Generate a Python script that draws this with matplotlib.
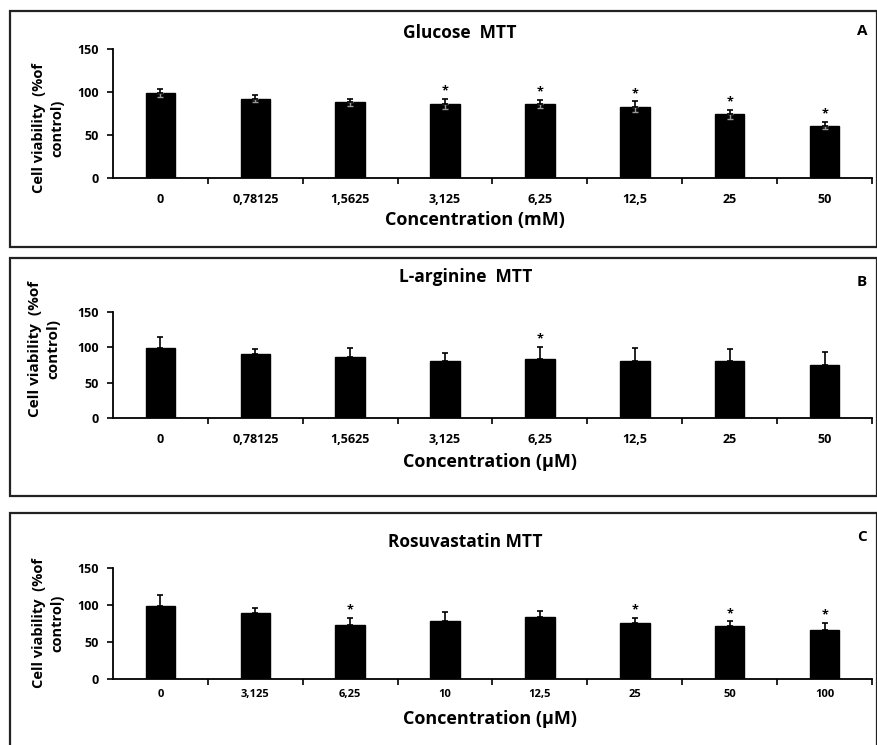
import numpy as np
import matplotlib
matplotlib.use("Agg")
import matplotlib.pyplot as plt
from matplotlib.patches import Rectangle

plt.rcParams['font.family'] = ['Open Sans', 'DejaVu Sans']
plt.rcParams['font.weight'] = 'bold'

# ---------------- data ----------------
glucose_labels = ['0', '0,78125', '1,5625', '3,125', '6,25', '12,5', '25', '50']
glucose_vals = [99, 92, 88, 86, 86, 83, 74, 61]
glucose_err = [5, 4, 4, 6, 5, 6, 5, 4]
glucose_star = [0, 0, 0, 1, 1, 1, 1, 1]

arginine_labels = ['0', '0,78125', '1,5625', '3,125', '6,25', '12,5', '25', '50']
arginine_vals = [99, 91, 86, 81, 83, 81, 81, 75]
arginine_err = [15, 7, 13, 11, 18, 18, 16, 19]
arginine_star = [0, 0, 0, 0, 1, 0, 0, 0]

rosu_labels = ['0', '3,125', '6,25', '10', '12,5', '25', '50', '100']
rosu_vals = [99, 89, 73, 79, 84, 76, 71, 66]
rosu_err = [15, 7, 10, 12, 8, 7, 7, 10]
rosu_star = [0, 0, 1, 0, 0, 1, 1, 1]

titles = ['Glucose  MTT', 'L-arginine  MTT', 'Rosuvastatin MTT']
letters = ['A', 'B', 'C']
xlabels = ['Concentration (mM)', 'Concentration (µM)', 'Concentration (µM)']
ylabel = 'Cell viability  (%of\ncontrol)'
yticks = [0, 50, 100, 150]

W, H = 878, 745
fig = plt.figure(figsize=(W / 100, H / 100), dpi=100)

def fx(x):
    return x / W

def fy(y):
    return 1 - y / H

# layout (pixel coordinates)
panels = [
    dict(labels=glucose_labels, vals=glucose_vals, err=glucose_err, star=glucose_star,
         box=(10, 11, 877, 247), y0=178, y150=49, title_y=33, title_x=460, letter_y=31,
         ylab=(48, 128), xlab=(475, 220), tickpad=11, symmetric=True, tfs=9, yfs=10.5),
    dict(labels=arginine_labels, vals=arginine_vals, err=arginine_err, star=arginine_star,
         box=(10, 258, 877, 496), y0=418, y150=312, title_y=277, title_x=466, letter_y=282,
         ylab=(44, 349), xlab=(490, 462), tickpad=11, symmetric=False, tfs=9, yfs=11),
    dict(labels=rosu_labels, vals=rosu_vals, err=rosu_err, star=rosu_star,
         box=(10, 513, 877, 780), y0=679, y150=568, title_y=542, title_x=465, letter_y=537,
         ylab=(48, 623), xlab=(490, 719), tickpad=7, symmetric=False, tfs=8, yfs=10.5),
]

for i, p in enumerate(panels):
    x0b, y0b, x1b, y1b = p['box']
    fig.patches.append(Rectangle((fx(x0b), fy(y1b)), fx(x1b - x0b), (y1b - y0b) / H,
                                 transform=fig.transFigure, fill=False,
                                 edgecolor='#222222', linewidth=1.6))
    ax = fig.add_axes([fx(113), fy(p['y0']), fx(872 - 113), (p['y0'] - p['y150']) / H])
    n = len(p['vals'])
    x = np.arange(n) + 0.5
    vals = np.array(p['vals'], dtype=float)
    err = np.array(p['err'], dtype=float)
    ax.bar(x, vals, width=0.31, color='black', edgecolor='black', zorder=2)
    if p['symmetric']:
        ax.errorbar(x, vals, yerr=[err, np.zeros(n)], fmt='none', ecolor='#9a9a9a',
                    elinewidth=1, capsize=2.5, capthick=1, zorder=3)
    ax.errorbar(x, vals, yerr=[np.zeros(n), err], fmt='none', ecolor='black',
                elinewidth=1.2, capsize=2.5, capthick=1.2, zorder=3)
    for xi, v, e, s in zip(x, vals, err, p['star']):
        if s:
            ax.annotate('*', xy=(xi, v + e), xytext=(0, 1), textcoords='offset points',
                        ha='center', va='bottom', fontsize=9, fontweight='bold')
    ax.set_xlim(0, n)
    ax.set_ylim(0, 150)
    ax.set_yticks(yticks)
    ax.set_yticklabels([str(t) for t in yticks], fontsize=9, fontweight='bold')
    ax.set_xticks(x)
    ax.set_xticklabels(p['labels'], fontsize=p['tfs'], fontweight='bold')
    ax.set_xticks(np.arange(1, n + 1), minor=True)
    ax.tick_params(axis='x', which='major', length=0, pad=p['tickpad'])
    ax.tick_params(axis='x', which='minor', length=4, width=1.2, direction='out')
    ax.tick_params(axis='y', length=4, width=1.2, direction='out', pad=6)
    for side in ['top', 'right']:
        ax.spines[side].set_visible(False)
    for side in ['left', 'bottom']:
        ax.spines[side].set_linewidth(1.3)
    ax.patch.set_alpha(0)

    fig.text(fx(p['title_x']), fy(p['title_y']), titles[i], ha='center', va='center',
             fontsize=12.5, fontweight='bold')
    fig.text(fx(862), fy(p['letter_y']), letters[i], ha='center', va='center',
             fontsize=11, fontweight='bold')
    fig.text(fx(p['ylab'][0]), fy(p['ylab'][1]), ylabel, rotation=90, ha='center',
             va='center', multialignment='center', fontsize=p['yfs'], fontweight='bold',
             linespacing=1.45)
    fig.text(fx(p['xlab'][0]), fy(p['xlab'][1]), xlabels[i], ha='center', va='center',
             fontsize=13, fontweight='bold')

fig.savefig('out.png', dpi=100)
